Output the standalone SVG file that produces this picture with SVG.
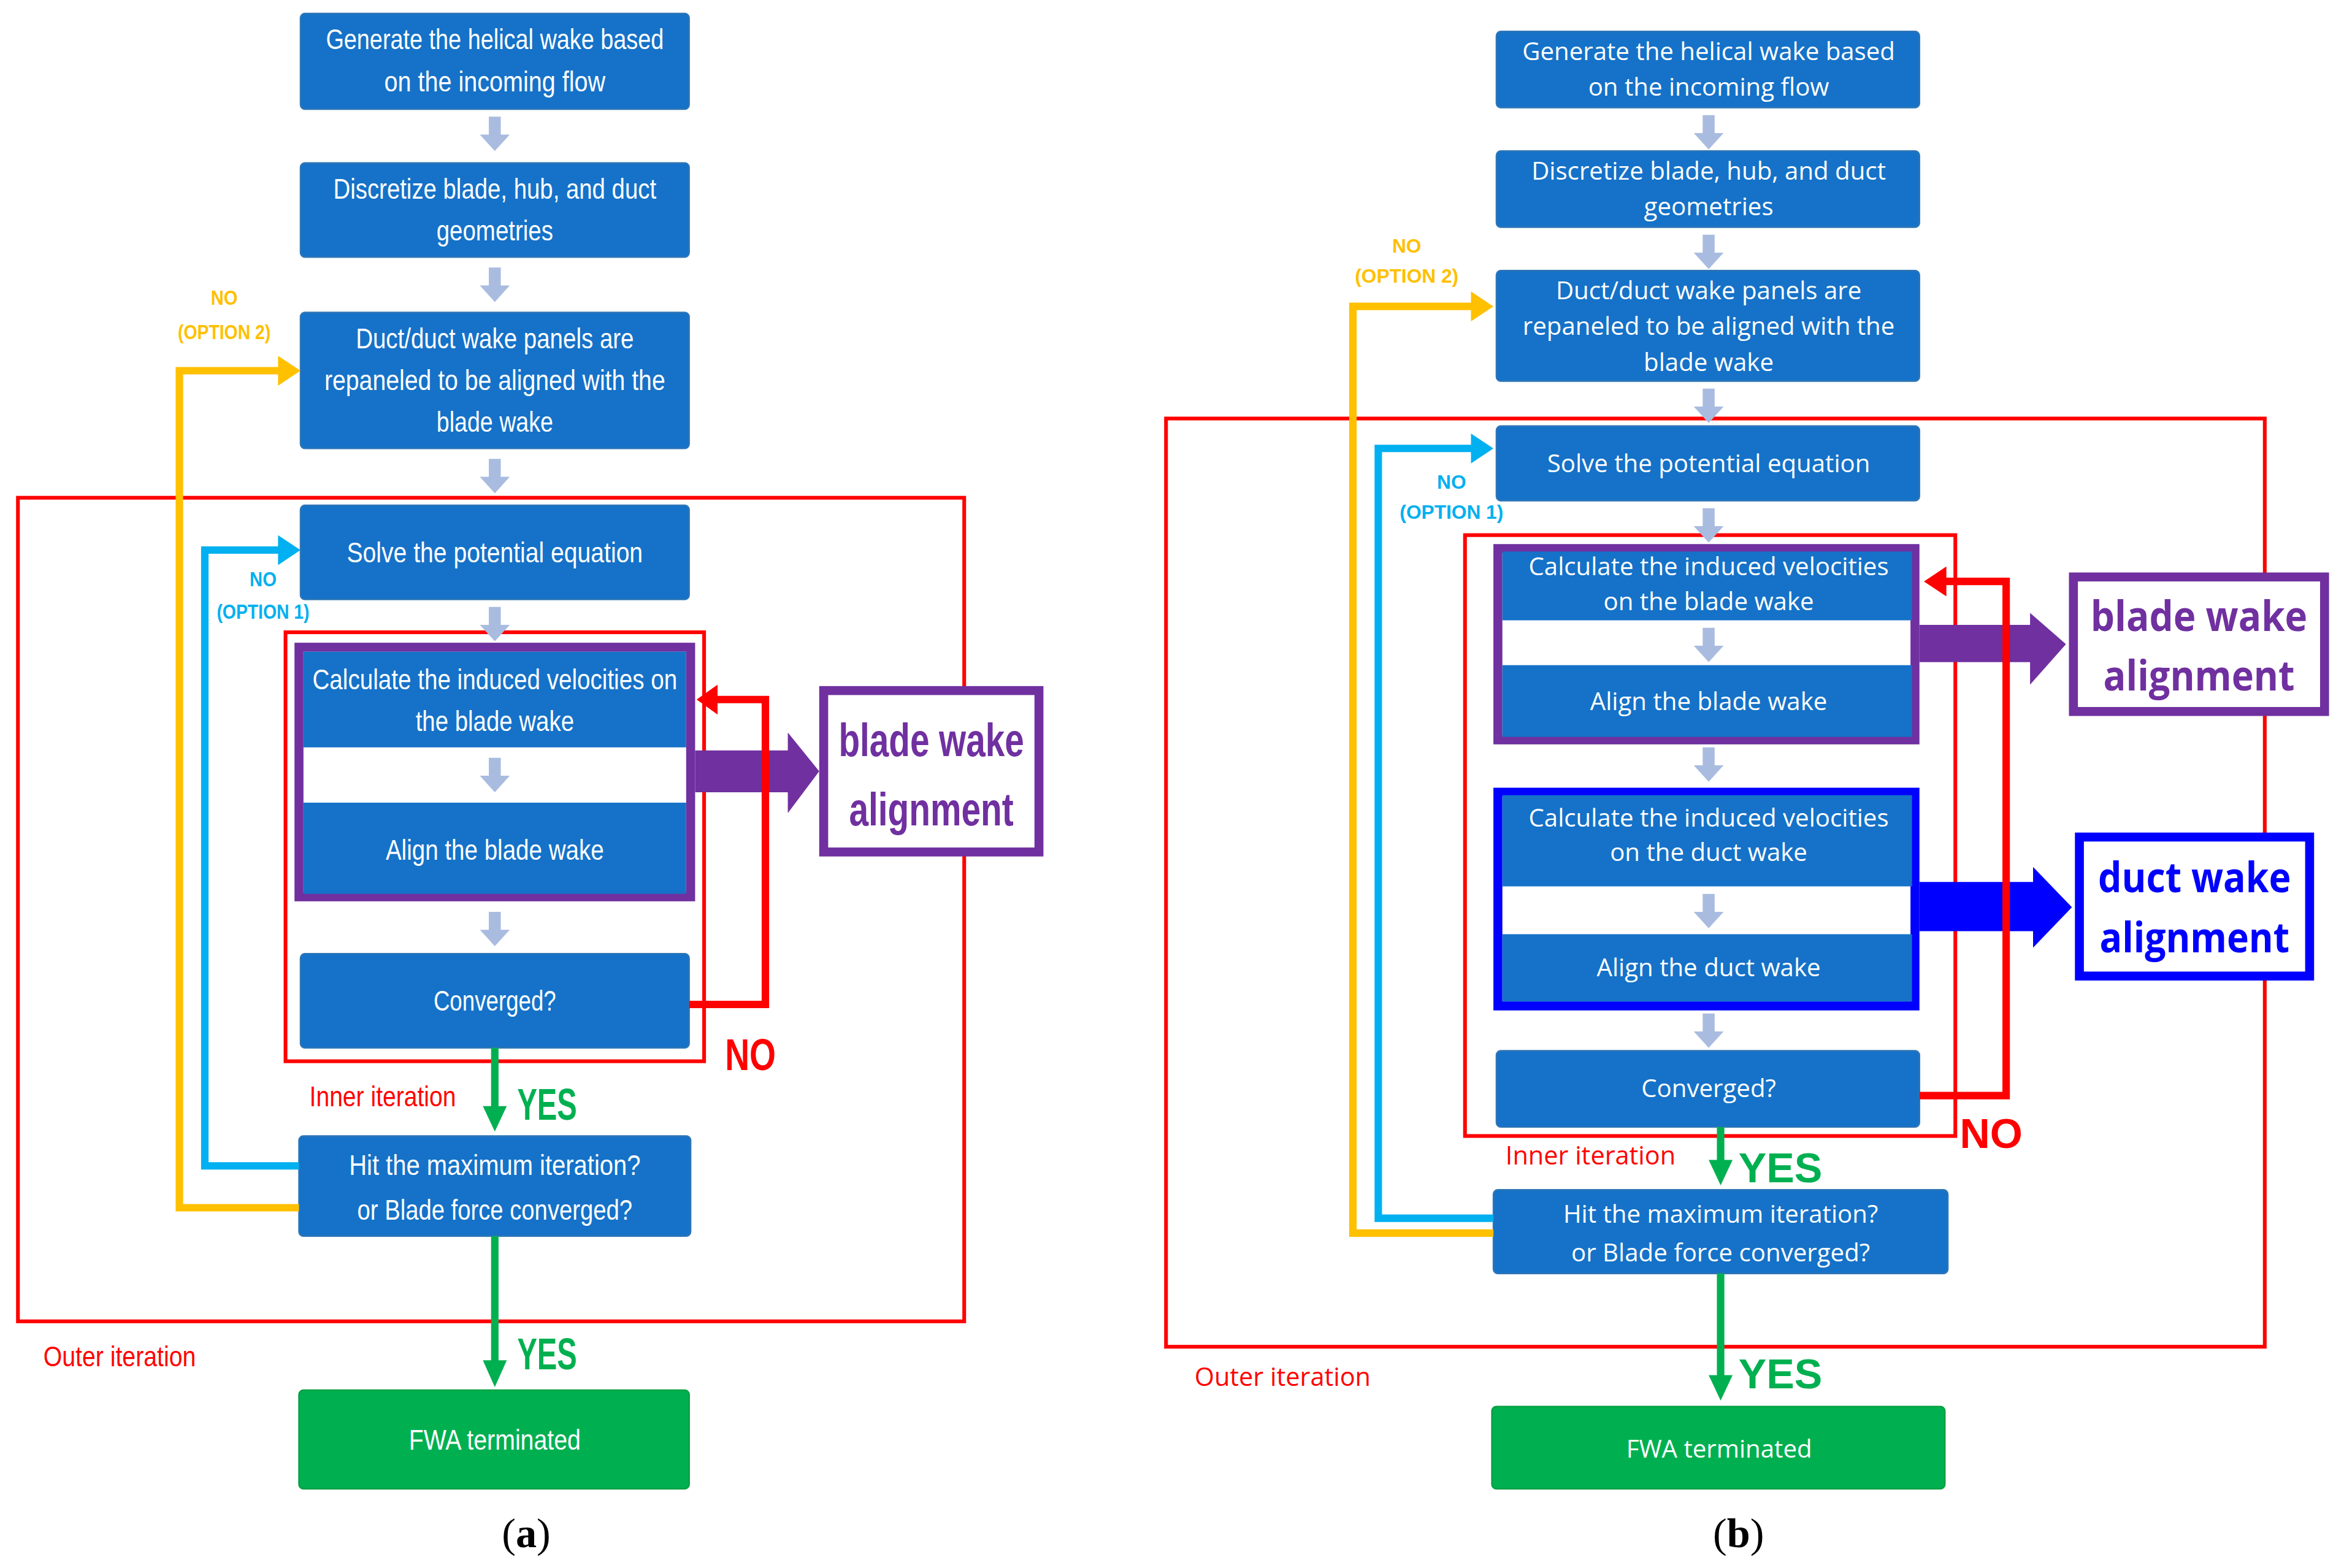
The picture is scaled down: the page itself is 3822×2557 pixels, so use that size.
<svg xmlns="http://www.w3.org/2000/svg" width="3822" height="2557" viewBox="0 0 3822 2557">
<style>
.b{fill:#1572c8;stroke:#2e75b6;stroke-width:1}
.t{fill:#fff;font-family:"Liberation Sans",Arial,sans-serif;font-size:19px;text-anchor:middle}
.u{fill:#fff;font-family:"Open Sans","Liberation Sans",sans-serif;font-size:16.5px;text-anchor:middle}
.la{font-family:"Open Sans","Liberation Sans",sans-serif;font-weight:bold;text-anchor:middle}
.lb{font-family:"Liberation Sans",sans-serif;font-weight:bold;text-anchor:middle}
.red{fill:none;stroke:#ff0000;stroke-width:2.5}
.ln{fill:none;stroke-width:5;stroke-linejoin:miter}
.cap{font-family:"Liberation Serif","Times New Roman",serif;font-size:28px;text-anchor:middle}
</style>
<defs>
<path id="da" d="M-4,0H4V12H10L0,23L-10,12H-4Z" fill="#a9bce0"/>
</defs>
<rect width="3822" height="2557" fill="#fff"/>
<g transform="scale(2.4375)">
<g id="frames-a">
<rect class="red" x="12" y="333" width="633" height="551"/>
<rect class="red" x="191" y="423" width="280" height="287"/>
<text x="80" y="914" fill="#ff0000" font-family="Liberation Sans,sans-serif" font-size="19" text-anchor="middle" textLength="102" lengthAdjust="spacingAndGlyphs">Outer iteration</text>
<text x="256" y="740" fill="#ff0000" font-family="Liberation Sans,sans-serif" font-size="19" text-anchor="middle" textLength="98" lengthAdjust="spacingAndGlyphs">Inner iteration</text>
</g>
<g id="a1"><rect class="b" x="201" y="9" width="260" height="64" rx="3"/><text class="t" x="331" y="33" textLength="226" lengthAdjust="spacingAndGlyphs">Generate the helical wake based</text><text class="t" x="331" y="61" textLength="148" lengthAdjust="spacingAndGlyphs">on the incoming flow</text></g>
<g id="a2"><rect class="b" x="201" y="109" width="260" height="63" rx="3"/><text class="t" x="331" y="133" textLength="216" lengthAdjust="spacingAndGlyphs">Discretize blade, hub, and duct</text><text class="t" x="331" y="161" textLength="78" lengthAdjust="spacingAndGlyphs">geometries</text></g>
<g id="a3"><rect class="b" x="201" y="209" width="260" height="91" rx="3"/><text class="t" x="331" y="233" textLength="186" lengthAdjust="spacingAndGlyphs">Duct/duct wake panels are</text><text class="t" x="331" y="261" textLength="228" lengthAdjust="spacingAndGlyphs">repaneled to be aligned with the</text><text class="t" x="331" y="289" textLength="78" lengthAdjust="spacingAndGlyphs">blade wake</text></g>
<g id="a4"><rect class="b" x="201" y="338" width="260" height="63" rx="3"/><text class="t" x="331" y="376" textLength="198" lengthAdjust="spacingAndGlyphs">Solve the potential equation</text></g>
<g id="a5">
<rect x="200" y="433" width="262" height="167" fill="#fff" stroke="#7030a0" stroke-width="6"/>
<rect x="203" y="436" width="256" height="64" fill="#1572c8"/>
<rect x="203" y="537" width="256" height="61" fill="#1572c8"/>
<text class="t" x="331" y="461" textLength="244" lengthAdjust="spacingAndGlyphs">Calculate the induced velocities on</text><text class="t" x="331" y="489" textLength="106" lengthAdjust="spacingAndGlyphs">the blade wake</text>
<text class="t" x="331" y="575" textLength="146" lengthAdjust="spacingAndGlyphs">Align the blade wake</text>
</g>
<g id="a6"><rect x="551" y="462" width="144" height="108" fill="#fff" stroke="#7030a0" stroke-width="6"/><text class="lb" x="623" y="506" fill="#7030a0" font-size="31" textLength="124" lengthAdjust="spacingAndGlyphs">blade wake</text><text class="lb" x="623" y="552" fill="#7030a0" font-size="31" textLength="110" lengthAdjust="spacingAndGlyphs">alignment</text></g>
<g id="a7"><rect class="b" x="201" y="638" width="260" height="63" rx="3"/><text class="t" x="331" y="676" textLength="82" lengthAdjust="spacingAndGlyphs">Converged?</text></g>
<g id="a8"><rect class="b" x="200" y="760" width="262" height="67" rx="3"/><text class="t" x="331" y="786" textLength="195" lengthAdjust="spacingAndGlyphs">Hit the maximum iteration?</text><text class="t" x="331" y="816" textLength="184" lengthAdjust="spacingAndGlyphs">or Blade force converged?</text></g>
<g id="a9"><rect x="200" y="930" width="261" height="66" rx="3" fill="#00b050" stroke="#00a040"/><text class="t" x="331" y="970" textLength="115" lengthAdjust="spacingAndGlyphs">FWA terminated</text></g>
<g id="conn-a">
<use href="#da" x="331" y="78"/><use href="#da" x="331" y="179"/><use href="#da" x="331" y="307"/><use href="#da" x="331" y="406"/><use href="#da" x="331" y="507"/><use href="#da" x="331" y="610"/>
<path d="M465,502H527V490L548,516L527,544V530H465Z" fill="#7030a0"/>
<polyline class="ln" stroke="#ff0000" points="461,672 512,672 512,468 478,468"/>
<path d="M466,468L480,458V478Z" fill="#ff0000"/>
<text class="lb" x="502" y="716" fill="#ff0000" font-size="30" textLength="34" lengthAdjust="spacingAndGlyphs">NO</text>
<line class="ln" stroke="#00b050" x1="331" y1="701" x2="331" y2="742"/><path d="M323,740H339L331,757Z" fill="#00b050"/>
<text class="lb" x="366" y="749" fill="#00b050" font-size="30" textLength="40" lengthAdjust="spacingAndGlyphs">YES</text>
<line class="ln" stroke="#00b050" x1="331" y1="827" x2="331" y2="912"/><path d="M323,910H339L331,928Z" fill="#00b050"/>
<text class="lb" x="366" y="916" fill="#00b050" font-size="30" textLength="40" lengthAdjust="spacingAndGlyphs">YES</text>
<polyline class="ln" stroke="#00b0f0" points="200,780 137,780 137,368 188,368"/><path d="M186,358L201,368L186,378Z" fill="#00b0f0"/>
<text class="lb" x="176" y="392" fill="#00b0f0" font-size="14" textLength="18" lengthAdjust="spacingAndGlyphs">NO</text><text class="lb" x="176" y="414" fill="#00b0f0" font-size="14" textLength="62" lengthAdjust="spacingAndGlyphs">(OPTION 1)</text>
<polyline class="ln" stroke="#ffc000" points="200,808 120,808 120,248 188,248"/><path d="M186,238L201,248L186,258Z" fill="#ffc000"/>
<text class="lb" x="150" y="204" fill="#ffc000" font-size="14" textLength="18" lengthAdjust="spacingAndGlyphs">NO</text><text class="lb" x="150" y="227" fill="#ffc000" font-size="14" textLength="62" lengthAdjust="spacingAndGlyphs">(OPTION 2)</text>
</g>
<text class="cap" x="352" y="1035">(<tspan font-weight="bold">a</tspan>)</text>

<g id="frames-b">
<rect class="red" x="780" y="280" width="735" height="621"/>
<rect class="red" x="980" y="358" width="328" height="402"/>
<text x="858" y="927" fill="#ff0000" font-family="Open Sans,Liberation Sans,sans-serif" font-size="17" text-anchor="middle">Outer iteration</text>
<text x="1064" y="779" fill="#ff0000" font-family="Open Sans,Liberation Sans,sans-serif" font-size="17" text-anchor="middle">Inner iteration</text>
</g>
<g id="b1"><rect class="b" x="1001" y="21" width="283" height="51" rx="3"/><text class="u" x="1143" y="40">Generate the helical wake based</text><text class="u" x="1143" y="64">on the incoming flow</text></g>
<g id="b2"><rect class="b" x="1001" y="101" width="283" height="51" rx="3"/><text class="u" x="1143" y="120">Discretize blade, hub, and duct</text><text class="u" x="1143" y="144">geometries</text></g>
<g id="b3"><rect class="b" x="1001" y="181" width="283" height="74" rx="3"/><text class="u" x="1143" y="200">Duct/duct wake panels are</text><text class="u" x="1143" y="224">repaneled to be aligned with the</text><text class="u" x="1143" y="248">blade wake</text></g>
<g id="b4"><rect class="b" x="1001" y="285" width="283" height="50" rx="3"/><text class="u" x="1143" y="316">Solve the potential equation</text></g>
<g id="b5">
<rect x="1002" y="367" width="279" height="128" fill="#fff" stroke="#7030a0" stroke-width="6"/>
<rect x="1005" y="369" width="274" height="46" fill="#1572c8"/>
<rect x="1005" y="445" width="274" height="48" fill="#1572c8"/>
<text class="u" x="1143" y="385">Calculate the induced velocities</text><text class="u" x="1143" y="408">on the blade wake</text>
<text class="u" x="1143" y="475">Align the blade wake</text>
</g>
<g id="b6"><rect x="1387" y="386" width="168" height="90" fill="#fff" stroke="#7030a0" stroke-width="6"/><text class="la" x="1471" y="422" fill="#7030a0" font-size="28" textLength="145" lengthAdjust="spacingAndGlyphs">blade wake</text><text class="la" x="1471" y="462" fill="#7030a0" font-size="28" textLength="128" lengthAdjust="spacingAndGlyphs">alignment</text></g>
<g id="b7">
<rect x="1002" y="530" width="279" height="143" fill="#fff" stroke="#0000ff" stroke-width="6"/>
<rect x="1005" y="532" width="274" height="61" fill="#1572c8"/>
<rect x="1005" y="625" width="274" height="45" fill="#1572c8"/>
<text class="u" x="1143" y="553">Calculate the induced velocities</text><text class="u" x="1143" y="576">on the duct wake</text>
<text class="u" x="1143" y="653">Align the duct wake</text>
</g>
<g id="b8"><rect x="1391" y="560" width="154" height="93" fill="#fff" stroke="#0000ff" stroke-width="6"/><text class="la" x="1468" y="597" fill="#0000ff" font-size="28" textLength="129" lengthAdjust="spacingAndGlyphs">duct wake</text><text class="la" x="1468" y="637" fill="#0000ff" font-size="28" textLength="127" lengthAdjust="spacingAndGlyphs">alignment</text></g>
<g id="b9"><rect class="b" x="1001" y="703" width="283" height="51" rx="3"/><text class="u" x="1143" y="734">Converged?</text></g>
<g id="b10"><rect class="b" x="999" y="796" width="304" height="56" rx="3"/><text class="u" x="1151" y="818">Hit the maximum iteration?</text><text class="u" x="1151" y="844">or Blade force converged?</text></g>
<g id="b11"><rect x="998" y="941" width="303" height="55" rx="3" fill="#00b050" stroke="#00a040"/><text class="u" x="1150" y="975">FWA terminated</text></g>
<g id="conn-b">
<use href="#da" x="1143" y="77"/><use href="#da" x="1143" y="157"/><use href="#da" x="1143" y="260"/><use href="#da" x="1143" y="340"/><use href="#da" x="1143" y="420"/><use href="#da" x="1143" y="500"/><use href="#da" x="1143" y="598"/><use href="#da" x="1143" y="678"/>
<path d="M1284,418H1358V410L1382,431L1358,458V443H1284Z" fill="#7030a0"/>
<path d="M1284,590H1360V580L1386,607L1360,634V623H1284Z" fill="#0000ff"/>
<polyline class="ln" stroke="#ff0000" points="1284,733 1342,733 1342,389 1300,389"/>
<path d="M1287,389L1302,379V399Z" fill="#ff0000"/>
<text class="lb" x="1332" y="768" fill="#ff0000" font-size="28">NO</text>
<line class="ln" stroke="#00b050" x1="1151" y1="754" x2="1151" y2="778"/><path d="M1143,776H1159L1151,793Z" fill="#00b050"/>
<text class="lb" x="1191" y="791" fill="#00b050" font-size="28">YES</text>
<line class="ln" stroke="#00b050" x1="1151" y1="852" x2="1151" y2="922"/><path d="M1143,920H1159L1151,937Z" fill="#00b050"/>
<text class="lb" x="1191" y="929" fill="#00b050" font-size="28">YES</text>
<polyline class="ln" stroke="#00b0f0" points="999,815 922,815 922,300 986,300"/><path d="M984,290L999,300L984,310Z" fill="#00b0f0"/>
<text class="lb" x="971" y="327" fill="#00b0f0" font-size="13">NO</text><text class="lb" x="971" y="347" fill="#00b0f0" font-size="13">(OPTION 1)</text>
<polyline class="ln" stroke="#ffc000" points="999,825 905,825 905,205 986,205"/><path d="M984,195L999,205L984,215Z" fill="#ffc000"/>
<text class="lb" x="941" y="169" fill="#ffc000" font-size="13">NO</text><text class="lb" x="941" y="189" fill="#ffc000" font-size="13">(OPTION 2)</text>
</g>
<text class="cap" x="1163" y="1035">(<tspan font-weight="bold">b</tspan>)</text>
</g>
</svg>
